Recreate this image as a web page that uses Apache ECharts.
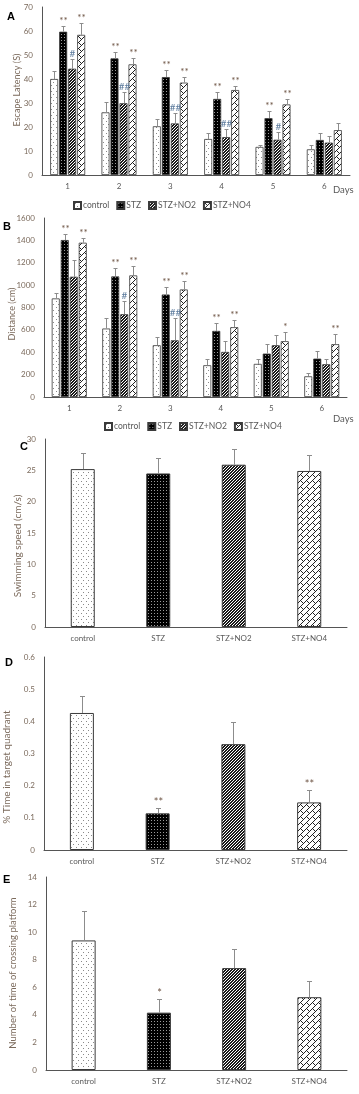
<!DOCTYPE html>
<html><head><meta charset="utf-8">
<script src="https://cdn.jsdelivr.net/npm/echarts@6/dist/echarts.min.js"></script>
<style>html,body{margin:0;padding:0;background:#fff}#c{width:359px;height:1094px}</style>
</head><body><div id="c"></div>
<script>
const groups = ['control', 'STZ', 'STZ+NO2', 'STZ+NO4'];
const days = ['1', '2', '3', '4', '5', '6'];

// Panel A: escape latency (s)
const aControl = [40.0, 26.1, 20.3, 15.0, 11.7, 10.7];
const aSTZ     = [59.7, 48.6, 40.8, 31.7, 23.7, 14.6];
const aNO2     = [44.3, 29.9, 21.5, 15.8, 14.7, 13.5];
const aNO4     = [58.4, 46.1, 38.5, 35.4, 29.4, 18.7];
const aControlErr = [3.5, 4.3, 2.9, 2.4, 0.7, 1.7];
const aSTZErr     = [2.3, 2.5, 2.8, 2.7, 2.8, 2.8];
const aNO2Err     = [4.1, 4.5, 4.5, 3.4, 3.1, 2.6];
const aNO4Err     = [5.0, 2.5, 2.2, 1.8, 2.3, 3.1];
const aSTZSig = ['**', '**', '**', '**', '**', ''];
const aNO2Sig = ['#', '##', '##', '##', '#', ''];
const aNO4Sig = ['**', '**', '**', '**', '**', ''];

// Panel B: distance (cm)
const bControl = [881, 612, 463, 284, 296, 185];
const bSTZ     = [1403, 1078, 916, 591, 388, 343];
const bNO2     = [1075, 740, 507, 403, 463, 293];
const bNO4     = [1379, 1087, 961, 624, 499, 472];
const bControlErr = [53, 98, 74, 59, 41, 30];
const bSTZErr     = [51, 77, 63, 69, 84, 66];
const bNO2Err     = [146, 117, 203, 101, 89, 44];
const bNO4Err     = [45, 86, 78, 66, 80, 89];
const bSTZSig = ['**', '**', '**', '**', '', ''];
const bNO2Sig = ['', '#', '##', '', '', ''];
const bNO4Sig = ['**', '**', '**', '**', '*', '**'];

// Panel C: swimming speed (cm/s)
const cSpeed = [25.2, 24.5, 25.9, 24.9];
const cSpeedErr = [2.5, 2.4, 2.5, 2.5];
// Panel D: % time in target quadrant
const dTime = [0.426, 0.114, 0.329, 0.148];
const dTimeErr = [0.052, 0.018, 0.068, 0.038];
const dSig = ['', '**', '', '**'];
// Panel E: number of platform crossings
const eCross = [9.4, 4.16, 7.39, 5.28];
const eCrossErr = [2.1, 0.97, 1.38, 1.18];
const eSig = ['', '*', '', ''];

const FONT = 'Lato, "Open Sans", sans-serif';
const LABEL = '#595959';
const YLAB = '#7b6a5c';

function pattern(kind) {
  const c = document.createElement('canvas');
  let w, h, f;
  if (kind === 0) { w = 5; h = 6; f = (x, y) => ((x === 1 && y === 1) || (x === 3 && y === 4)) ? '#8a8a8a' : '#ffffff'; }
  else if (kind === 1) { w = 3; h = 3; f = (x, y) => (x === 1 && y === 1) ? '#9a9a9a' : '#000000'; }
  else if (kind === 2) { w = 3; h = 3; f = (x, y) => ((x + y) % 3 < 2) ? '#1a1a1a' : '#ffffff'; }
  else { w = 6; h = 6; f = (x, y) => ((x + y) % 6 === 0 || ((x - y + 6) % 6 === 0 && y % 6 < 3)) ? '#222222' : '#ffffff'; }
  c.width = w; c.height = h;
  const ctx = c.getContext('2d');
  for (let y = 0; y < h; y++) for (let x = 0; x < w; x++) { ctx.fillStyle = f(x, y); ctx.fillRect(x, y, 1, 1); }
  return { image: c, repeat: 'repeat' };
}
const pats = [0, 1, 2, 3].map(pattern);

function errorBars(ax, means, errs, sigs, offset, cap, fs) {
  return {
    type: 'custom', xAxisIndex: ax, yAxisIndex: ax, z: 10, silent: true,
    data: means.map((m, i) => [i, m, errs[i]]),
    renderItem: function (params, api) {
      const i = api.value(0), m = api.value(1), e = api.value(2);
      const b = api.coord([i, m]), t = api.coord([i, m + e]);
      const x = Math.round(b[0] + offset) + 0.5;
      const ty = Math.round(t[1]) + 0.5;
      const ch = [
        { type: 'line', shape: { x1: x, y1: b[1], x2: x, y2: ty }, style: { stroke: '#8c8c8c', lineWidth: 1 } },
        { type: 'line', shape: { x1: x - cap / 2, y1: ty, x2: x + cap / 2, y2: ty }, style: { stroke: '#8c8c8c', lineWidth: 1 } }
      ];
      const s = sigs ? sigs[params.dataIndex] : '';
      if (s) ch.push({ type: 'text', x: x, y: ty - 1, style: { text: s, fill: s[0] === '#' ? '#5b7a9c' : '#6e5545', fontSize: fs, fontFamily: FONT, align: 'center', verticalAlign: 'bottom' } });
      return { type: 'group', children: ch };
    }
  };
}

const grids = [
  { left: 42, top: 7, width: 308, height: 168 },
  { left: 44, top: 218, width: 303, height: 179 },
  { left: 45, top: 439, width: 302, height: 188 },
  { left: 44, top: 657, width: 303, height: 193 },
  { left: 46, top: 877, width: 301, height: 193 }
];
const yCfg = [
  { max: 70, interval: 10 },
  { max: 1600, interval: 200 },
  { max: 30, interval: 5 },
  { max: 0.6, interval: 0.1 },
  { max: 14, interval: 2 }
];
const xAxes = grids.map((g, i) => ({
  type: 'category', gridIndex: i, data: i < 2 ? days : groups,
  axisLine: { lineStyle: { color: '#555', width: 1 } }, axisTick: { show: false },
  axisLabel: { color: LABEL, fontSize: 8, fontFamily: FONT, margin: 7 }
}));
const yAxes = yCfg.map((c, i) => ({
  type: 'value', gridIndex: i, min: 0, max: c.max, interval: c.interval,
  axisLine: { show: true, lineStyle: { color: '#555', width: 1 } }, axisTick: { show: false },
  splitLine: { show: false },
  axisLabel: { color: YLAB, fontSize: 8, fontFamily: FONT, margin: 9, formatter: v => String(+v.toFixed(2)) }
}));

const series = [];
const aVals = [aControl, aSTZ, aNO2, aNO4], aErrs = [aControlErr, aSTZErr, aNO2Err, aNO4Err], aSigs = [null, aSTZSig, aNO2Sig, aNO4Sig];
const bVals = [bControl, bSTZ, bNO2, bNO4], bErrs = [bControlErr, bSTZErr, bNO2Err, bNO4Err], bSigs = [null, bSTZSig, bNO2Sig, bNO4Sig];
[[aVals, aErrs, aSigs, 0], [bVals, bErrs, bSigs, 1]].forEach(([vals, errs, sigs, ax]) => {
  groups.forEach((g, k) => {
    series.push({
      name: g, type: 'bar', xAxisIndex: ax, yAxisIndex: ax, data: vals[k],
      barWidth: 8, barGap: '12.5%',
      itemStyle: { color: pats[k], borderColor: '#3a3a3a', borderWidth: 0.8 }
    });
    series.push(errorBars(ax, vals[k], errs[k], sigs[k], (k - 1.5) * 9, 4, 10));
  });
});
[[cSpeed, cSpeedErr, null, 2], [dTime, dTimeErr, dSig, 3], [eCross, eCrossErr, eSig, 4]].forEach(([vals, errs, sigs, ax]) => {
  series.push({
    name: 'panel' + ax, type: 'bar', xAxisIndex: ax, yAxisIndex: ax, barWidth: 24,
    data: vals.map((v, k) => ({ value: v, itemStyle: { color: pats[k], borderColor: '#3a3a3a', borderWidth: 1 } }))
  });
  series.push(errorBars(ax, vals, errs, sigs, 0, 5, 11));
});

function legend(left, top) {
  return {
    data: groups, left: left, top: top, orient: 'horizontal', selectedMode: false,
    itemWidth: 7, itemHeight: 7, itemGap: 7, icon: 'rect',
    textStyle: { color: LABEL, fontSize: 8.5, fontFamily: FONT, padding: [0, 0, 0, -3] }
  };
}

function ytitle(text, x, y, fs) {
  return { type: 'text', x: x, y: y, rotation: Math.PI / 2, style: { text: text, fill: YLAB, fontSize: fs, fontFamily: FONT, align: 'center', verticalAlign: 'middle' } };
}
function letter(text, x, y) {
  return { type: 'text', x: x, y: y, style: { text: text, fill: '#000', fontSize: 11, fontWeight: 'bold', fontFamily: 'Liberation Sans, Arial, sans-serif' } };
}
function daysTxt(y) {
  return { type: 'text', x: 333, y: y, style: { text: 'Days', fill: LABEL, fontSize: 9.5, fontFamily: FONT } };
}

const chart = echarts.init(document.getElementById('c'), null, { renderer: 'canvas' });
chart.setOption({
  animation: false,
  backgroundColor: '#fff',
  grid: grids,
  xAxis: xAxes,
  yAxis: yAxes,
  legend: [legend(68, 196), legend(99, 417)],
  series: series,
  graphic: [
    letter('A', 7, 11), letter('B', 3, 221), letter('C', 20, 441), letter('D', 5, 657), letter('E', 3, 874),
    daysTxt(185), daysTxt(414),
    ytitle('Escape Latency (S)', 17, 90, 9),
    ytitle('Distance (cm)', 12, 314, 9),
    ytitle('Swimming speed (cm/s)', 18, 546, 10),
    ytitle('% Time in target quadrant', 7, 767, 10),
    ytitle('Number of time of crossing platform', 13, 973, 9.5)
  ]
});
</script></body></html>
